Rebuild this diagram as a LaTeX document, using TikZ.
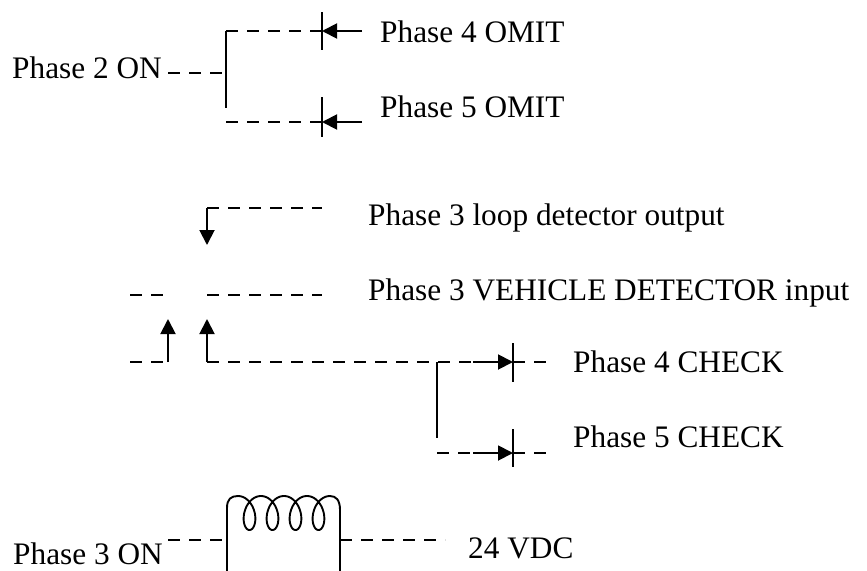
\documentclass[tikz,border=0pt]{standalone}
\usepackage{fontspec}
\setmainfont{Liberation Serif}
\usetikzlibrary{arrows.meta}
\begin{document}
\begin{tikzpicture}[x=1pt,y=-1pt,
  wire/.style={line width=1.9pt},
  dwire/.style={line width=1.9pt,dash pattern=on 12pt off 9pt},
  arr/.style={line width=1.9pt,-{Triangle[length=15pt,width=15pt]}},
  lbl/.style={anchor=base west,inner sep=0pt,font=\fontsize{31.3}{36}\selectfont}]
\useasboundingbox (0,0) rectangle (867,570);
% ---------- top group ----------
\node[lbl] (p2on) at (12,78) {Phase 2 ON};
\coordinate (j1) at (226,73);
\coordinate (v1t) at (226,31);
\coordinate (v1b) at (226,108);
\coordinate (b1) at (226,122);
\coordinate (t4) at (322,31);
\coordinate (t5) at (322,122);
\coordinate (a4) at (362,31);
\coordinate (a5) at (362,122);
\draw[dwire] (168,73) -- (j1);
\draw[wire] (v1t) -- (v1b);
\draw[dwire] (v1t) -- (t4);
\draw[dwire] (b1) -- (t5);
\draw[wire] (322,12) -- (322,50);
\draw[wire] (322,97) -- (322,137);
\draw[arr] (a4) -- (t4);
\draw[arr] (a5) -- (t5);
\node[lbl] (p4o) at (380,42) {Phase 4 OMIT};
\node[lbl] (p5o) at (380,117) {Phase 5 OMIT};
% ---------- middle group ----------
\coordinate (c1) at (207,208);
\coordinate (c1a) at (207,245);
\draw[dwire] (c1) -- (322,208);
\draw[arr] (c1) -- (c1a);
\node[lbl] (ldo) at (368,225) {Phase 3 loop detector output};
\draw[dwire] (130,295) -- (167,295);
\draw[dwire] (207,295) -- (322,295);
\node[lbl] (vdi) at (368,300) {Phase 3 VEHICLE DETECTOR input};
\coordinate (l1) at (168,362);
\coordinate (l2) at (207,362);
\draw[dwire] (130,362) -- (l1);
\draw[arr] (l1) -- (168,319);
\draw[arr] (l2) -- (207,319);
\coordinate (jn) at (437,362);
\coordinate (k4) at (513,362);
\coordinate (k5) at (513,453);
\draw[dwire] (l2) -- (473,362);
\draw[arr] (473,362) -- (k4);
\draw[wire] (513,343) -- (513,382);
\draw[dwire] (k4) -- (552,362);
\draw[wire] (jn) -- (437,438);
\draw[dwire] (437,453) -- (473,453);
\draw[arr] (473,453) -- (k5);
\draw[wire] (513,429) -- (513,467);
\draw[dwire] (k5) -- (553,453);
\node[lbl] (p4c) at (573,372) {Phase 4 CHECK};
\node[lbl] (p5c) at (573,447) {Phase 5 CHECK};
% ---------- bottom: relay coil ----------
\node[lbl] (p3on) at (13,564) {Phase 3 ON};
\draw[dwire] (168,540) -- (227,540);
\draw[wire,line join=round] (227,575) -- (227,508) .. controls (227,499) and (231,496) .. (238,496)
  -- plot[domain=180:1620,samples=240,variable=\t] ({238+0.06388*(\t-180)-11*sin(\t)},{513+17*cos(\t)})
  .. controls (336,496) and (340,500) .. (340,510) -- (340,575);
\draw[dwire] (340,540) -- (445,540);
\node[lbl] (vdc) at (468,558) {24 VDC};
\end{tikzpicture}
\end{document}
